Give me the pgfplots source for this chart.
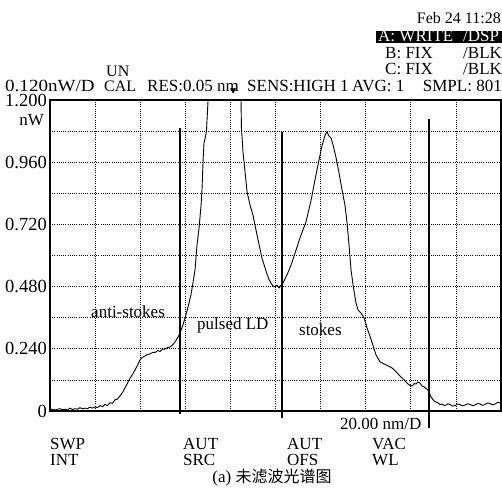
\documentclass[border=0pt]{standalone}
\usepackage{pgfplots}
\pgfplotsset{compat=1.18}
\usepackage{fontspec}
\setmainfont{Liberation Serif}
\newfontfamily\cjk{Noto Sans CJK SC}

\pgfplotstableread{
x y
0.0 0.008
2.2 0.004
4.4 0.009
5.5 0.005
6.7 0.007
7.8 0.004
8.9 0.011
10.0 0.006
11.1 0.009
12.2 0.007
13.3 0.013
14.4 0.008
15.5 0.011
16.6 0.009
17.7 0.015
18.8 0.011
20.0 0.016
21.1 0.013
22.2 0.021
23.3 0.017
24.4 0.025
25.5 0.021
26.6 0.032
27.7 0.030
28.8 0.043
29.9 0.046
31.0 0.058
32.2 0.072
33.3 0.090
34.4 0.108
35.5 0.127
36.6 0.141
37.7 0.158
38.8 0.176
39.9 0.197
41.0 0.207
42.1 0.212
43.2 0.218
44.3 0.220
45.5 0.226
46.6 0.226
47.7 0.233
48.8 0.230
49.9 0.238
51.0 0.239
52.1 0.245
53.2 0.247
54.3 0.254
55.4 0.266
56.6 0.282
57.7 0.301
58.8 0.328
59.9 0.359
61.2 0.401
62.5 0.448
63.4 0.494
64.3 0.544
65.2 0.641
66.1 0.706
67.0 0.795
67.4 0.853
67.9 0.969
68.3 1.034
69.0 1.061
69.4 1.084
70.1 1.200
84.7 1.200
84.9 1.092
85.6 0.999
86.5 0.922
87.4 0.845
88.7 0.795
90.0 0.756
91.8 0.679
94.0 0.590
96.2 0.529
97.1 0.508
98.0 0.494
98.9 0.482
99.8 0.479
100.7 0.485
101.6 0.475
102.5 0.486
103.3 0.494
105.1 0.525
106.9 0.563
109.1 0.621
111.3 0.679
113.5 0.729
115.8 0.814
117.5 0.891
119.3 0.969
120.6 1.023
122.0 1.065
122.8 1.077
123.7 1.061
124.6 1.054
125.5 1.027
126.8 0.980
128.1 0.922
129.5 0.853
130.8 0.795
131.7 0.729
132.6 0.641
133.5 0.544
134.4 0.486
135.7 0.417
136.6 0.390
137.9 0.378
139.3 0.359
140.6 0.320
141.9 0.289
143.3 0.251
144.6 0.216
146.4 0.189
147.3 0.186
148.2 0.181
149.1 0.178
149.9 0.174
151.7 0.166
153.5 0.151
155.2 0.135
157.0 0.120
158.8 0.104
159.7 0.098
160.6 0.096
161.5 0.106
162.3 0.104
163.2 0.112
164.1 0.108
165.0 0.096
165.9 0.093
167.6 0.081
169.0 0.054
170.3 0.039
171.2 0.035
172.1 0.031
173.0 0.025
173.9 0.027
174.8 0.021
175.6 0.023
176.5 0.028
177.4 0.025
178.5 0.019
179.6 0.021
180.7 0.027
181.8 0.025
182.9 0.020
184.1 0.023
185.2 0.028
186.3 0.025
187.4 0.021
188.5 0.023
189.6 0.029
190.7 0.027
191.8 0.022
192.9 0.025
194.0 0.031
195.1 0.029
196.2 0.024
197.4 0.027
198.5 0.033
199.6 0.031
}\spectrum

\begin{document}
\fontsize{17}{20}\selectfont
\begin{tikzpicture}[x=1pt,y=1pt]
\useasboundingbox (0,0) rectangle (502,496);

\begin{axis}[
  at={(50pt,85pt)}, anchor=south west,
  scale only axis, width=451pt, height=311pt,
  xmin=0, xmax=200, ymin=0, ymax=1.2,
  clip=false,
  axis line style={black, line width=1.3pt},
  xtick={0,20,...,200}, xticklabels={},
  ytick={0,0.12,0.24,0.36,0.48,0.6,0.72,0.84,0.96,1.08,1.2},
  yticklabels={0,,0.240,,0.480,,0.720,,0.960,,1.200},
  major tick length=0pt,
  grid=major,
  grid style={black, line width=0.8pt, dash pattern=on 1pt off 1.2pt},
  /pgf/number format/assume math mode=true,
  yticklabel style={font=\fontsize{18.5}{20}\selectfont, inner xsep=1pt, xshift=-2pt},
]
\addplot[black, line width=0.9pt] table[x=x, y=y] {\spectrum};
% marker lines
\addplot[black, line width=1.3pt] coordinates {(57.7,1.092) (57.7,-0.012)};
\addplot[black, line width=1.3pt] coordinates {(102.9,1.077) (102.9,-0.027)};
\addplot[black, line width=1.3pt] coordinates {(168.1,1.127) (168.1,-0.066)};
\addplot[only marks, mark=triangle*, mark size=3pt, mark options={rotate=180, fill=black}] coordinates {(81.2,1.238)};
\node[anchor=west, inner sep=0pt] at (axis cs:18.2,0.382) {anti-stokes};
\node[anchor=west, inner sep=0pt] at (axis cs:65.2,0.332) {pulsed LD};
\node[anchor=west, inner sep=0pt] at (axis cs:110.4,0.313) {stokes};
\end{axis}

% header
\node[anchor=east, inner sep=0pt, font=\fontsize{16}{18}\selectfont] at (501,478) {Feb 24 11:28};
\fill[black] (376,452.5) rectangle (502,465);
\node[anchor=base west, inner sep=0pt, text=white] at (378,454) {A: WRITE};
\node[anchor=base west, inner sep=0pt, text=white] at (463,454) {/DSP};
\node[anchor=base west, inner sep=0pt] at (385,437.5) {B: FIX};
\node[anchor=base west, inner sep=0pt] at (463,437.5) {/BLK};
\node[anchor=base west, inner sep=0pt] at (385,421) {C: FIX};
\node[anchor=base west, inner sep=0pt] at (463,421) {/BLK};
\node[anchor=base west, inner sep=0pt, font=\fontsize{16}{18}\selectfont] at (106,419.5) {UN};
\node[anchor=base west, inner sep=0pt, font=\fontsize{16}{18}\selectfont] at (104,404.5) {CAL};
\node[anchor=base west, inner sep=0pt] at (5,404.5) {\scalebox{1.12}[1]{0.120nW/D}};
\node[anchor=base west, inner sep=0pt] at (147,404.5) {RES:0.05 nm};
\node[anchor=base west, inner sep=0pt] at (247,404.5) {SENS:HIGH 1};
\node[anchor=base west, inner sep=0pt] at (352,404.5) {AVG: 1};
\node[anchor=base east, inner sep=0pt] at (502,404.5) {SMPL: 801};
\node[anchor=east, inner sep=0pt] at (44,376) {nW};

% footer
\node[anchor=west, inner sep=0pt] at (340,72) {20.00 nm/D};
\node[anchor=west, inner sep=0pt] at (50,52) {SWP};
\node[anchor=west, inner sep=0pt] at (50,36) {INT};
\node[anchor=west, inner sep=0pt] at (183,52) {AUT};
\node[anchor=west, inner sep=0pt] at (183,36) {SRC};
\node[anchor=west, inner sep=0pt] at (287,52) {AUT};
\node[anchor=west, inner sep=0pt] at (287,36) {OFS};
\node[anchor=west, inner sep=0pt] at (372,52) {VAC};
\node[anchor=west, inner sep=0pt] at (372,36) {WL};
\node[inner sep=0pt] at (272,18) {(a) {\cjk\fontsize{16}{18}\selectfont 未滤波光谱图}};
\end{tikzpicture}
\end{document}
